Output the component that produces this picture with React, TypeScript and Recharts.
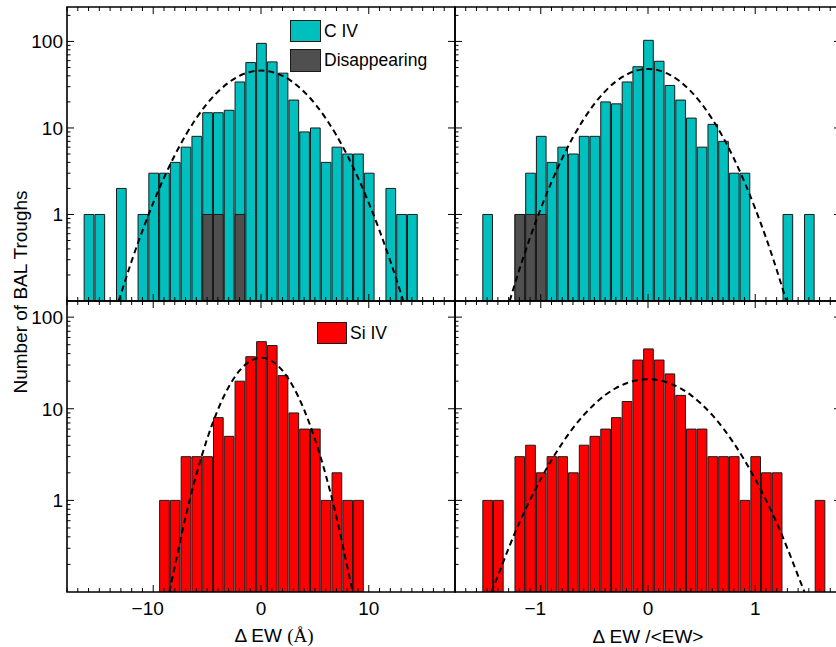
import React from "react";
import { ComposedChart, Bar, Line, XAxis, YAxis, ReferenceArea } from "recharts";

const PAGE_W = 836;
const PAGE_H = 647;
const SANS = "'Liberation Sans', Arial, Helvetica, sans-serif";
const SERIF = "'Liberation Serif', 'Times New Roman', serif";

const CYAN = "#00BFBF";
const GREY = "#4F4F4F";
const RED = "#FF0000";

// ---- C IV, change in EW (Å), 1 Å bins ----
const civEwBins = [-16, -15, -14, -13, -12, -11, -10, -9, -8, -7, -6, -5, -4, -3, -2, -1, 0, 1, 2, 3, 4, 5, 6, 7, 8, 9, 10, 11, 12, 13, 14];
const civEwCounts = [1, 1, 0, 2, 0, 1, 3, 3, 4, 6, 8, 15, 15, 16, 34, 57, 95, 58, 43, 21, 9, 10, 4, 6, 5, 5, 3, 0, 2, 1, 1];
const civEwGone = [0, 0, 0, 0, 0, 0, 0, 0, 0, 0, 0, 1, 1, 0, 1, 0, 0, 0, 0, 0, 0, 0, 0, 0, 0, 0, 0, 0, 0, 0, 0];
const civEwFitX = [-13.2, -13, -12, -11, -10, -9, -8, -7, -6, -5, -4, -3, -2, -1, 0, 1, 2, 3, 4, 5, 6, 7, 8, 9, 10, 11, 12, 13, 13.2];
const civEwFitY = [0.1, 0.12, 0.29, 0.65, 1.36, 2.66, 4.84, 8.21, 12.96, 19.1, 26.2, 33.5, 40.0, 44.4, 46, 44.4, 40.0, 33.5, 26.2, 19.1, 12.96, 8.21, 4.84, 2.66, 1.36, 0.65, 0.29, 0.12, 0.1];

// ---- C IV, fractional change in EW, 0.1 bins ----
const civFracBins = [-1.5, -1.4, -1.3, -1.2, -1.1, -1.0, -0.9, -0.8, -0.7, -0.6, -0.5, -0.4, -0.3, -0.2, -0.1, 0, 0.1, 0.2, 0.3, 0.4, 0.5, 0.6, 0.7, 0.8, 0.9, 1.0, 1.1, 1.2, 1.3, 1.4, 1.5];
const civFracCounts = [1, 0, 0, 1, 3, 8, 4, 6, 5, 8, 8, 20, 19, 34, 51, 103, 59, 31, 21, 13, 6, 11, 7, 3, 3, 0, 0, 0, 1, 0, 1];
const civFracGone = [0, 0, 0, 1, 1, 1, 0, 0, 0, 0, 0, 0, 0, 0, 0, 0, 0, 0, 0, 0, 0, 0, 0, 0, 0, 0, 0, 0, 0, 0, 0];
const civFracFitX = [-1.29, -1.2, -1.1, -1.0, -0.9, -0.8, -0.7, -0.6, -0.5, -0.4, -0.3, -0.2, -0.1, 0, 0.1, 0.2, 0.3, 0.4, 0.5, 0.6, 0.7, 0.8, 0.9, 1.0, 1.1, 1.2, 1.29];
const civFracFitY = [0.1, 0.23, 0.54, 1.17, 2.37, 4.46, 7.79, 12.6, 19.0, 26.5, 34.4, 41.4, 46.3, 48, 46.3, 41.4, 34.4, 26.5, 19.0, 12.6, 7.79, 4.46, 2.37, 1.17, 0.54, 0.23, 0.1];

// ---- Si IV, change in EW (Å) ----
const siEwBins = [-9, -8, -7, -6, -5, -4, -3, -2, -1, 0, 1, 2, 3, 4, 5, 6, 7, 8, 9];
const siEwCounts = [1, 1, 3, 3, 3, 8, 5, 20, 37, 54, 49, 23, 9, 6, 6, 1, 2, 1, 1];
const siEwFitX = [-8.5, -8, -7, -6, -5, -4, -3, -2, -1, 0, 1, 2, 3, 4, 5, 6, 7, 8, 8.5];
const siEwFitY = [0.1, 0.19, 0.66, 1.91, 4.68, 9.76, 17.3, 26.0, 33.2, 36, 33.2, 26.0, 17.3, 9.76, 4.68, 1.91, 0.66, 0.19, 0.1];

// ---- Si IV, fractional change in EW ----
const siFracBins = [-1.5, -1.4, -1.3, -1.2, -1.1, -1.0, -0.9, -0.8, -0.7, -0.6, -0.5, -0.4, -0.3, -0.2, -0.1, 0, 0.1, 0.2, 0.3, 0.4, 0.5, 0.6, 0.7, 0.8, 0.9, 1.0, 1.1, 1.2, 1.3, 1.4, 1.5, 1.6];
const siFracCounts = [1, 1, 0, 3, 4, 2, 3, 3, 2, 4, 5, 6, 8, 12, 34, 45, 34, 24, 14, 6, 6, 3, 3, 3, 1, 3, 2, 2, 0, 0, 0, 1];
const siFracFitX = [-1.46, -1.4, -1.3, -1.2, -1.1, -1.0, -0.9, -0.8, -0.7, -0.6, -0.5, -0.4, -0.3, -0.2, -0.1, 0, 0.1, 0.2, 0.3, 0.4, 0.5, 0.6, 0.7, 0.8, 0.9, 1.0, 1.1, 1.2, 1.3, 1.4, 1.46];
const siFracFitY = [0.1, 0.15, 0.3, 0.57, 1.01, 1.71, 2.75, 4.21, 6.14, 8.51, 11.2, 14.1, 16.8, 19.0, 20.5, 21, 20.5, 19.0, 16.8, 14.1, 11.2, 8.51, 6.14, 4.21, 2.75, 1.71, 1.01, 0.57, 0.3, 0.15, 0.1];

// ---- axes ----
const ewTicks = [-18, -17, -16, -15, -14, -13, -12, -11, -10, -9, -8, -7, -6, -5, -4, -3, -2, -1, 0, 1, 2, 3, 4, 5, 6, 7, 8, 9, 10, 11, 12, 13, 14, 15, 16, 17, 18];
const ewMajor = [-10, 0, 10];
const fracTicks = [-1.8, -1.7, -1.6, -1.5, -1.4, -1.3, -1.2, -1.1, -1.0, -0.9, -0.8, -0.7, -0.6, -0.5, -0.4, -0.3, -0.2, -0.1, 0, 0.1, 0.2, 0.3, 0.4, 0.5, 0.6, 0.7, 0.8, 0.9, 1.0, 1.1, 1.2, 1.3, 1.4, 1.5, 1.6, 1.7, 1.8];
const fracMajor = [-1, 0, 1];
const countTicksTop = [0.2, 0.3, 0.4, 0.5, 0.6, 0.7, 0.8, 0.9, 1, 2, 3, 4, 5, 6, 7, 8, 9, 10, 20, 30, 40, 50, 60, 70, 80, 90, 100, 200];
const countTicksBottom = [0.2, 0.3, 0.4, 0.5, 0.6, 0.7, 0.8, 0.9, 1, 2, 3, 4, 5, 6, 7, 8, 9, 10, 20, 30, 40, 50, 60, 70, 80, 90, 100];
const countMajor = [1, 10, 100];

type Row = { bin: number; count: number | null; gone: number | null };
type FitRow = { x: number; y: number };

const toRows = (bins: number[], counts: number[], gone?: number[]): Row[] =>
  bins.map((b, i) => ({
    bin: b,
    count: counts[i] > 0 ? counts[i] : null,
    gone: gone && gone[i] > 0 ? gone[i] : null,
  }));

const toFit = (xs: number[], ys: number[]): FitRow[] => xs.map((x, i) => ({ x, y: ys[i] }));

const isMajor = (v: number, majors: number[]) => majors.some((m) => Math.abs(m - v) < 1e-6);

// plot rectangles on the page
const LEFT_X = [67, 455];
const RIGHT_X = [455, 841];
const TOP_Y = [7, 301];
const BOTTOM_Y = [301, 592];

// bottom axis ticks, mirrored onto the top edge of the frame
function xTick(majors: number[], labels: boolean, plotH: number) {
  return (props: any) => {
    const { x, y, payload } = props;
    const v = payload.value as number;
    const major = isMajor(v, majors);
    const len = major ? 7 : 4;
    const top = y - plotH;
    const digits = String(Math.round(Math.abs(v)));
    const half = digits.length * 0.556 * 19 * 0.5;
    return (
      <g>
        <line x1={x} x2={x} y1={y} y2={y - len} stroke="#000" strokeWidth={1} />
        <line x1={x} x2={x} y1={top} y2={top + len} stroke="#000" strokeWidth={1} />
        {labels && major && (
          <g fontFamily={SANS} fontSize={19} fill="#000">
            <text x={x} y={y + 23} textAnchor="middle">{digits}</text>
            {v < 0 && (
              <text x={x - half} y={y + 23} textAnchor="end">{"\u2212"}</text>
            )}
          </g>
        )}
      </g>
    );
  };
}

// left axis ticks; majors are repeated on the right edge
function yTick(labels: boolean, plotW: number) {
  return (props: any) => {
    const { x, y, payload } = props;
    const v = payload.value as number;
    const major = isMajor(v, countMajor);
    const right = x + plotW;
    return (
      <g>
        <line x1={x} x2={x + (major ? 7 : 3.5)} y1={y} y2={y} stroke="#000" strokeWidth={1} />
        {major && <line x1={right} x2={right - 7} y1={y} y2={y} stroke="#000" strokeWidth={1} />}
        {labels && major && (
          <text x={x - 4} y={y} dy="0.36em" textAnchor="end" fontFamily={SANS} fontSize={19} fill="#000">
            {v}
          </text>
        )}
      </g>
    );
  };
}

type PanelProps = {
  chartW: number;
  px: number[];
  py: number[];
  rows: Row[];
  fit: FitRow[];
  fill: string;
  xDomain: [number, number];
  xTicks: number[];
  xMajor: number[];
  binWidth: number;
  yDomain: [number, number];
  yTicks: number[];
  xLabels: boolean;
  yLabels: boolean;
  withGone?: boolean;
  xTitle?: (vb: any) => React.ReactNode;
  yTitle?: (vb: any) => React.ReactNode;
};

const layer: React.CSSProperties = { position: "absolute", left: 0, top: 0 };

function Panel(p: PanelProps) {
  const plotW = p.px[1] - p.px[0];
  const plotH = p.py[1] - p.py[0];
  const barSize = (plotW / (p.xDomain[1] - p.xDomain[0])) * p.binWidth;
  const dataMargin = {
    left: p.px[0],
    right: p.chartW - p.px[1],
    top: p.py[0],
    bottom: PAGE_H - p.py[1],
  };
  // the visible axes take 1px each, so the frame layer trims its margins by that
  const frameMargin = { ...dataMargin, left: dataMargin.left - 1, bottom: dataMargin.bottom - 1 };

  return (
    <>
      {/* histogram bars and fitted curve */}
      <div style={layer}>
        <ComposedChart width={p.chartW} height={PAGE_H} data={p.rows} margin={dataMargin}>
          <XAxis xAxisId="bin" dataKey="bin" type="number" domain={p.xDomain} allowDataOverflow hide />
          <XAxis xAxisId="gone" dataKey="bin" type="number" domain={p.xDomain} allowDataOverflow hide />
          <XAxis xAxisId="fit" dataKey="x" type="number" domain={p.xDomain} allowDataOverflow hide />
          <YAxis yAxisId="n" scale="log" type="number" domain={p.yDomain} allowDataOverflow hide />
          <Bar
            xAxisId="bin"
            yAxisId="n"
            dataKey="count"
            fill={p.fill}
            stroke="#1a1a1a"
            strokeWidth={1}
            barSize={barSize}
            isAnimationActive={false}
          />
          {p.withGone && (
            <Bar
              xAxisId="gone"
              yAxisId="n"
              dataKey="gone"
              fill={GREY}
              stroke="#1a1a1a"
              strokeWidth={1}
              barSize={barSize}
              isAnimationActive={false}
            />
          )}
          <Line
            xAxisId="fit"
            yAxisId="n"
            data={p.fit}
            dataKey="y"
            type="monotone"
            stroke="#000"
            strokeWidth={2}
            strokeDasharray="6 4"
            dot={false}
            activeDot={false}
            isAnimationActive={false}
          />
        </ComposedChart>
      </div>

      {/* frame, ticks and titles drawn over the bars */}
      <div style={layer}>
        <ComposedChart width={p.chartW} height={PAGE_H} data={p.rows} margin={frameMargin}>
          <XAxis
            dataKey="bin"
            type="number"
            domain={p.xDomain}
            allowDataOverflow
            ticks={p.xTicks}
            interval={0}
            height={1}
            tickSize={0}
            tickMargin={0}
            tickLine={false}
            axisLine={false}
            tick={xTick(p.xMajor, p.xLabels, plotH)}
            label={p.xTitle ? (lp: any) => p.xTitle!(lp.viewBox) : undefined}
          />
          <YAxis
            scale="log"
            type="number"
            domain={p.yDomain}
            allowDataOverflow
            ticks={p.yTicks}
            interval={0}
            width={1}
            tickSize={0}
            tickMargin={0}
            tickLine={false}
            axisLine={false}
            tick={yTick(p.yLabels, plotW)}
            label={p.yTitle ? (lp: any) => p.yTitle!(lp.viewBox) : undefined}
          />
          <Line dataKey="count" stroke="none" dot={false} activeDot={false} isAnimationActive={false} />
          <ReferenceArea
            x1={p.xDomain[0]}
            x2={p.xDomain[1]}
            y1={p.yDomain[0]}
            y2={p.yDomain[1]}
            ifOverflow="visible"
            fill="none"
            fillOpacity={0}
            stroke="#000"
            strokeWidth={1.6}
          />
        </ComposedChart>
      </div>
    </>
  );
}

function LegendKey({ x, y, w, h, color, label }: { x: number; y: number; w: number; h: number; color: string; label: string }) {
  return (
    <div style={{ position: "absolute", left: x, top: y, height: h, display: "flex", alignItems: "center" }}>
      <div style={{ width: w, height: h, boxSizing: "border-box", background: color, border: "1.5px solid #1a1a1a" }} />
      <span style={{ marginLeft: 3, fontFamily: SANS, fontSize: 17.5, color: "#000", whiteSpace: "nowrap" }}>{label}</span>
    </div>
  );
}

const ewTitle = (vb: any) => (
  <text x={vb.x + vb.width / 2 + 13} y={vb.y + 50} textAnchor="middle" fontFamily={SANS} fontSize={19} fill="#000">
    <tspan>{"\u0394 EW "}</tspan>
    <tspan fontFamily={SERIF}>(Å)</tspan>
  </text>
);

const fracTitle = (vb: any) => (
  <text x={vb.x + vb.width / 2} y={vb.y + 51} textAnchor="middle" fontFamily={SANS} fontSize={19} fill="#000">
    {"\u0394 EW /<EW>"}
  </text>
);

const countTitle = (vb: any) => {
  const cx = vb.x + vb.width - 47;
  const cy = vb.y + vb.height - 9;
  return (
    <text x={cx} y={cy} transform={`rotate(-90 ${cx} ${cy})`} textAnchor="middle" dy="0.36em" fontFamily={SANS} fontSize={19} fill="#000">
      Number of BAL Troughs
    </text>
  );
};

export default function App() {
  return (
    <div style={{ position: "absolute", left: 0, top: 0, width: PAGE_W, height: PAGE_H, overflow: "hidden", background: "#fff" }}>
      <Panel
        chartW={PAGE_W}
        px={LEFT_X}
        py={TOP_Y}
        rows={toRows(civEwBins, civEwCounts, civEwGone)}
        fit={toFit(civEwFitX, civEwFitY)}
        fill={CYAN}
        withGone
        xDomain={[-18, 18]}
        xTicks={ewTicks}
        xMajor={ewMajor}
        binWidth={1}
        yDomain={[0.1, 250]}
        yTicks={countTicksTop}
        xLabels={false}
        yLabels
        yTitle={countTitle}
      />
      <Panel
        chartW={850}
        px={RIGHT_X}
        py={TOP_Y}
        rows={toRows(civFracBins, civFracCounts, civFracGone)}
        fit={toFit(civFracFitX, civFracFitY)}
        fill={CYAN}
        withGone
        xDomain={[-1.8, 1.8]}
        xTicks={fracTicks}
        xMajor={fracMajor}
        binWidth={0.1}
        yDomain={[0.1, 250]}
        yTicks={countTicksTop}
        xLabels={false}
        yLabels={false}
      />
      <Panel
        chartW={PAGE_W}
        px={LEFT_X}
        py={BOTTOM_Y}
        rows={toRows(siEwBins, siEwCounts)}
        fit={toFit(siEwFitX, siEwFitY)}
        fill={RED}
        xDomain={[-18, 18]}
        xTicks={ewTicks}
        xMajor={ewMajor}
        binWidth={1}
        yDomain={[0.1, 150]}
        yTicks={countTicksBottom}
        xLabels
        yLabels
        xTitle={ewTitle}
      />
      <Panel
        chartW={850}
        px={RIGHT_X}
        py={BOTTOM_Y}
        rows={toRows(siFracBins, siFracCounts)}
        fit={toFit(siFracFitX, siFracFitY)}
        fill={RED}
        xDomain={[-1.8, 1.8]}
        xTicks={fracTicks}
        xMajor={fracMajor}
        binWidth={0.1}
        yDomain={[0.1, 150]}
        yTicks={countTicksBottom}
        xLabels
        yLabels={false}
        xTitle={fracTitle}
      />
      <LegendKey x={290} y={20} w={31} h={22} color={CYAN} label="C IV" />
      <LegendKey x={290} y={49} w={31} h={23} color={GREY} label="Disappearing" />
      <LegendKey x={317} y={322} w={30} h={22} color={RED} label="Si IV" />
    </div>
  );
}
